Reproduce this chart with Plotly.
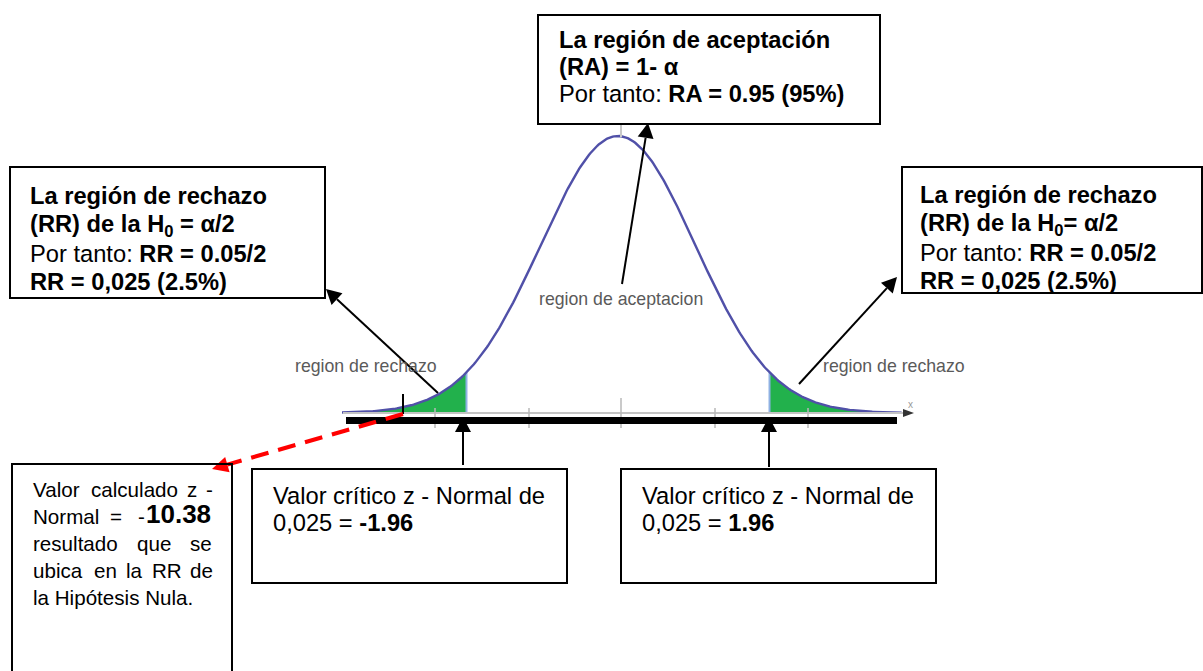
import numpy as np
import plotly.graph_objects as go

# ---------------- data ----------------
ALPHA = 0.05
Z_CRIT = 1.96
Z_CALC = -10.38
Z_MIN, Z_MAX = -3.57, 3.67
N_PTS = 400

region_labels = ["region de rechazo", "region de aceptacion", "region de rechazo"]

top_box_lines = ["<b>La región de aceptación</b>",
                 "<b>(RA) = 1- α</b>",
                 "Por tanto: <b>RA = 0.95 (95%)</b>"]
left_box_lines = ["<b>La región de rechazo</b>",
                  "<b>(RR) de la H<sub>0</sub> = α/2</b>",
                  "Por tanto: <b>RR = 0.05/2</b>",
                  "<b>RR = 0,025 (2.5%)</b>"]
right_box_lines = ["<b>La región de rechazo</b>",
                   "<b>(RR) de la H<sub>0</sub>= α/2</b>",
                   "Por tanto: <b>RR = 0.05/2</b>",
                   "<b>RR = 0,025 (2.5%)</b>"]
mid_box_lines = ["Valor crítico z - Normal de", "0,025 = <b>-1.96</b>"]
right_bottom_lines = ["Valor crítico z - Normal de", "0,025 = <b>1.96</b>"]

# bottom-left justified paragraph: (word, left pixel)
calc_words = [
    [("Valor", 31), ("calculado", 89), ("z", 185), ("-", 204)],
    [("Normal", 31), ("=", 108), ("-", 136)],
    [("resultado", 31), ("que", 135), ("se", 188)],
    [("ubica", 31), ("en", 92), ("la", 124), ("RR", 150), ("de", 188)],
    [("la Hipótesis Nula.", 31)],
]
calc_value = "10.38"

# ---------------- layout geometry (pixels) ----------------
W, H = 1203, 671
CX, SIG = 618.0, 77.3      # pixel of z = 0, pixels per z unit
BASE, PEAK = 413.0, 136.0  # pixel y of density 0 and of the peak


def pdf(z):
    return np.exp(-0.5 * z ** 2) / np.sqrt(2 * np.pi)


k = pdf(0.0) / (BASE - PEAK)
x_range = [(0 - CX) / SIG, (W - CX) / SIG]
y_range = [-(H - BASE) * k, BASE * k]


def px(x):
    return x / W


def py(y):
    return 1 - y / H


FONT = "Liberation Sans, Arial, sans-serif"
CURVE = "#5050a8"
GREEN = "#22b14c"
BOX_FS = 23.7
LBL_FS = 17.7
CALC_FS = 20.6

fig = go.Figure()

z = np.linspace(Z_MIN, Z_MAX, N_PTS)
zl = np.linspace(Z_MIN, -Z_CRIT, 120)
zr = np.linspace(Z_CRIT, Z_MAX, 120)
for zz in (zl, zr):
    fig.add_trace(go.Scatter(x=zz, y=pdf(zz), mode="lines", fill="tozeroy",
                             fillcolor=GREEN, line=dict(width=0), hoverinfo="skip"))
for zc in (-Z_CRIT, Z_CRIT):
    fig.add_trace(go.Scatter(x=[zc, zc], y=[0, pdf(zc)], mode="lines",
                             line=dict(color="#8fb1e3", width=2), hoverinfo="skip"))
fig.add_trace(go.Scatter(x=z, y=pdf(z), mode="lines",
                         line=dict(color=CURVE, width=2.4), hoverinfo="skip"))

shapes = []


def line(x0, y0, x1, y1, color="black", width=2, dash=None):
    d = dict(type="line", xref="paper", yref="paper",
             x0=px(x0), y0=py(y0), x1=px(x1), y1=py(y1),
             line=dict(color=color, width=width))
    if dash:
        d["line"]["dash"] = dash
    shapes.append(d)


def head(tipx, tipy, tailx, taily, color="black", length=15, half=8):
    ux, uy = tipx - tailx, tipy - taily
    n = np.hypot(ux, uy)
    ux, uy = ux / n, uy / n
    bx, by = tipx - length * ux, tipy - length * uy
    nx, ny = -uy, ux
    pts = [(tipx, tipy), (bx + half * nx, by + half * ny), (bx - half * nx, by - half * ny)]
    path = "M " + " L ".join(f"{px(a):.6f},{py(b):.6f}" for a, b in pts) + " Z"
    shapes.append(dict(type="path", xref="paper", yref="paper", path=path,
                       fillcolor=color, line=dict(width=0)))
    return bx, by


def arrow(tipx, tipy, tailx, taily, color="black", width=2, length=15, half=8, dash=None):
    bx, by = head(tipx, tipy, tailx, taily, color, length, half)
    line(tailx, taily, bx, by, color=color, width=width, dash=dash)


def rect(x0, y0, x1, y1):
    shapes.append(dict(type="rect", xref="paper", yref="paper",
                       x0=px(x0), y0=py(y0), x1=px(x1), y1=py(y1),
                       line=dict(color="black", width=2), fillcolor="rgba(0,0,0,0)"))


# axis (gray) with ticks
line(343, 413, 905, 413, color="#c4c4c4", width=2)
for tx in (435, 529, 715, 808):
    line(tx, 408, tx, 428, color="#b8b8b8", width=1.5)
line(621, 398, 621, 428, color="#b8b8b8", width=1.5)
line(621, 124, 621, 137, color="#c8c8c8", width=2)
head(914, 413, 903, 413, color="#333", length=11, half=4)
# thick black bar
shapes.append(dict(type="rect", xref="paper", yref="paper",
                   x0=px(346), y0=py(424), x1=px(897), y1=py(417),
                   fillcolor="black", line=dict(width=0)))
# z calc marker
line(403, 394, 403, 414, width=2)
arrow(212, 469, 403, 414, color="#ff0000", width=4, length=16, half=8, dash="18px,10px")

# boxes
rect(538, 15, 880, 124)
rect(10, 167, 325, 298)
rect(902, 167, 1202, 293)
rect(12, 464, 232, 680)
rect(252, 469, 567, 583)
rect(621, 469, 936, 583)

# black arrows
arrow(648, 123, 622, 284)
arrow(326, 289, 438, 393)
arrow(897, 277, 799, 384)
arrow(463, 417, 463, 465)
arrow(769, 417, 769, 467)

ann = []


def text(t, x, y, size, anchor="left", color="black"):
    ann.append(dict(text=t, xref="paper", yref="paper", x=px(x), y=py(y),
                    xanchor=anchor, yanchor="middle", showarrow=False,
                    font=dict(family=FONT, size=size, color=color)))


for t, y in zip(top_box_lines, (40, 67, 94)):
    text(t, 557, y, BOX_FS)
for t, y in zip(left_box_lines, (196, 226, 254, 282)):
    text(t, 28, y, BOX_FS)
for t, y in zip(right_box_lines, (195, 225, 253, 281)):
    text(t, 918, y, BOX_FS)
for t, y in zip(mid_box_lines, (496, 523)):
    text(t, 271, y, BOX_FS)
for t, y in zip(right_bottom_lines, (496, 523)):
    text(t, 640, y, BOX_FS)

for words, y in zip(calc_words, (489, 516, 543, 570, 597)):
    for w, x in words:
        text(w, x, y, CALC_FS)
text("<b>" + calc_value + "</b>", 144, 514, 26)

text(region_labels[0], 366, 366, LBL_FS, anchor="center", color="#5a5a5a")
text(region_labels[1], 621, 299, LBL_FS, anchor="center", color="#5a5a5a")
text(region_labels[2], 894, 366, LBL_FS, anchor="center", color="#5a5a5a")
text("x", 910, 404, 10, anchor="center", color="#999")

fig.update_layout(
    width=W, height=H, autosize=False,
    margin=dict(l=0, r=0, t=0, b=0),
    paper_bgcolor="white", plot_bgcolor="white",
    showlegend=False,
    xaxis=dict(range=x_range, visible=False, fixedrange=True),
    yaxis=dict(range=y_range, visible=False, fixedrange=True),
    shapes=shapes, annotations=ann,
)

fig.write_html("out.html", config={"displayModeBar": False},
               post_script="document.body.style.margin='0';document.body.style.overflow='hidden';")
